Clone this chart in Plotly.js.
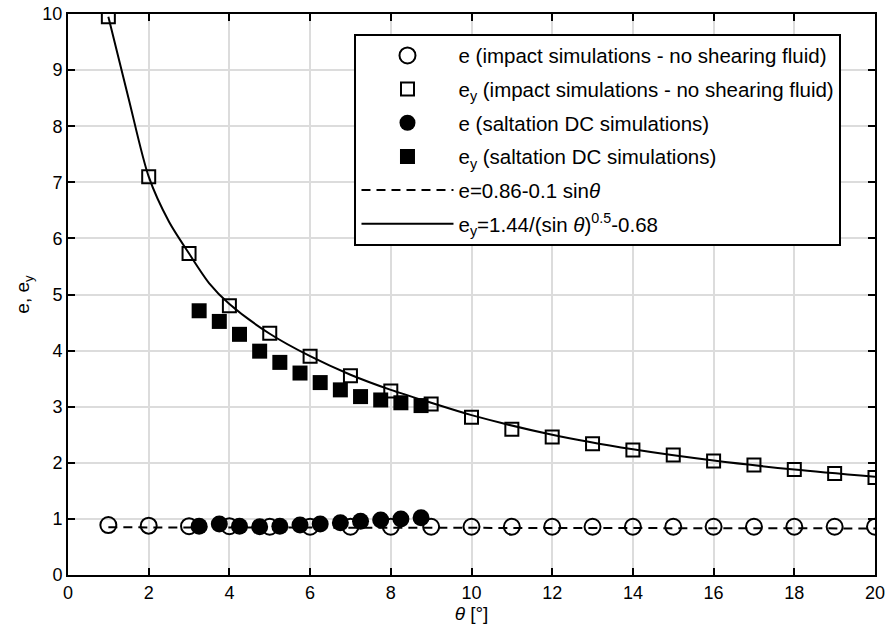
<!DOCTYPE html>
<html>
<head>
<meta charset="utf-8">
<script src="https://cdn.plot.ly/plotly-3.0.1.min.js"></script>
<style>html,body{margin:0;padding:0;background:#fff}#chart{width:886px;height:634px}</style>
</head>
<body>
<div id="chart"></div>
<script>
// Impact simulations (no shearing fluid)
const thetaImpact = [1,2,3,4,5,6,7,8,9,10,11,12,13,14,15,16,17,18,19,20];
const eImpact = [0.89,0.88,0.87,0.87,0.86,0.86,0.86,0.86,0.86,0.86,0.86,0.86,0.86,0.86,0.86,0.86,0.86,0.86,0.86,0.86];
const eyImpact = [9.95,7.1,5.73,4.8,4.31,3.9,3.55,3.28,3.05,2.81,2.6,2.46,2.34,2.23,2.14,2.03,1.96,1.88,1.81,1.74];
// Saltation DC simulations
const thetaSalt = [3.25,3.75,4.25,4.75,5.25,5.75,6.25,6.75,7.25,7.75,8.25,8.75];
const eSalt = [0.87,0.91,0.87,0.86,0.87,0.89,0.91,0.93,0.96,0.98,1.0,1.02];
const eySalt = [4.71,4.52,4.29,3.99,3.79,3.6,3.43,3.3,3.18,3.12,3.07,3.02];
// Fit lines
const thetaFitE = [1,20];
const eFit = [0.85,0.83];
const thetaFitEy = [1,1.5,2,2.5,3,3.5,4,5,6,7,8,9,10,12,14,16,18,20];
const eyFit = [9.95,8.5,7.1,6.3,5.73,5.2,4.83,4.3,3.9,3.57,3.3,3.07,2.85,2.5,2.24,2.04,1.88,1.75];

const legendNames = [
  'e (impact simulations - no shearing fluid)',
  'e<sub>y</sub> (impact simulations - no shearing fluid)',
  'e (saltation DC simulations)',
  'e<sub>y</sub> (saltation DC simulations)',
  'e=0.86-0.1 sin<i>θ</i>',
  'e<sub>y</sub>=1.44/(sin <i>θ</i>)<sup>0.5</sup>-0.68'
];

const FONT = 'Liberation Sans, Arial, Helvetica, sans-serif';

const traces = [
  {x: thetaFitE, y: eFit, mode:'lines', line:{color:'black', width:2, dash:'9px,6px'}, showlegend:false, hoverinfo:'skip', legendgroup:'e'},
  {x: thetaFitEy, y: eyFit, mode:'lines', line:{color:'black', width:2, shape:'spline', smoothing:0.8}, showlegend:false, hoverinfo:'skip', legendgroup:'f'},
  {x: thetaImpact, y: eImpact, mode:'markers', name: legendNames[0], legendgroup:'a',
   marker:{symbol:'circle-open', size:16, color:'black', line:{width:2, color:'black'}}},
  {x: thetaImpact, y: eyImpact, mode:'markers', name: legendNames[1], legendgroup:'b',
   marker:{symbol:'square-open', size:13, color:'black', line:{width:2, color:'black'}}},
  {x: thetaSalt, y: eSalt, mode:'markers', name: legendNames[2], legendgroup:'c',
   marker:{symbol:'circle', size:17, color:'black'}},
  {x: thetaSalt, y: eySalt, mode:'markers', name: legendNames[3], legendgroup:'d',
   marker:{symbol:'square', size:15, color:'black'}},
  {x:[null], y:[null], mode:'lines', line:{color:'black', width:2, dash:'9px,6px'}, name: legendNames[4], legendgroup:'e'},
  {x:[null], y:[null], mode:'lines', line:{color:'black', width:2}, name: legendNames[5], legendgroup:'f'}
];

const axisCommon = {
  showgrid:true, gridcolor:'#dcdcdc', gridwidth:2,
  showline:true, linecolor:'black', linewidth:2, mirror:'ticks',
  ticks:'inside', ticklen:7, tickwidth:2, tickcolor:'black',
  zeroline:false, ticklabeloverflow:'allow',
  tickfont:{family:FONT, size:18, color:'black'}
};

const layout = {
  width:886, height:634,
  margin:{l:68, r:11, t:14, b:59},
  paper_bgcolor:'white', plot_bgcolor:'white',
  font:{family:FONT, size:18, color:'black'},
  xaxis: Object.assign({}, axisCommon, {
    range:[0,20], dtick:2, tick0:0,
    title:{text:'<i>θ</i> [°]', standoff:0, font:{family:FONT, size:19}}
  }),
  yaxis: Object.assign({}, axisCommon, {
    range:[0,10], dtick:1, tick0:0,
    title:{text:'e, e<sub>y</sub>', standoff:8, font:{family:FONT, size:19}}
  }),
  legend:{
    x:0.355, y:0.965, xanchor:'left', yanchor:'top',
    bgcolor:'white', bordercolor:'black', borderwidth:2,
    font:{family:FONT, size:20.5, color:'black'},
    tracegroupgap:4, itemwidth:92, traceorder:'grouped'
  },
  showlegend:true
};

Plotly.newPlot('chart', traces, layout, {displayModeBar:false, staticPlot:true});
</script>
</body>
</html>
